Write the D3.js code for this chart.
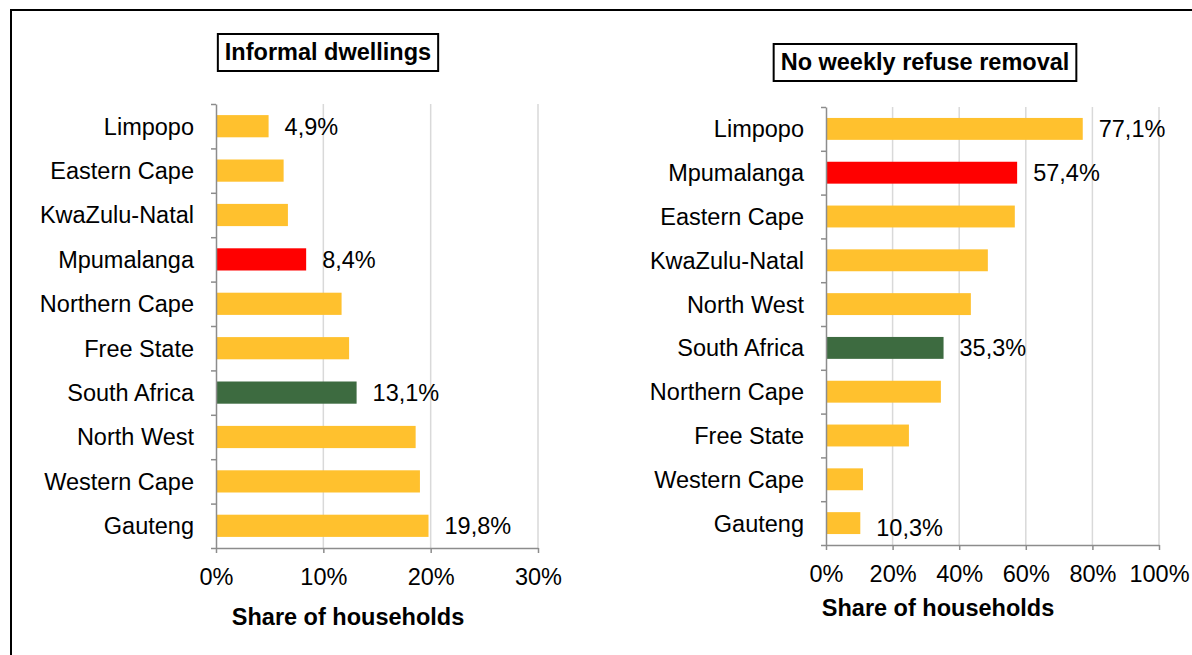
<!DOCTYPE html>
<html>
<head>
<meta charset="utf-8">
<script src="https://cdn.jsdelivr.net/npm/d3@7"></script>
<style>
  body { margin: 0; background: #fff; }
  text { font-family: "Liberation Sans", Arial, sans-serif; }
</style>
</head>
<body>
<div id="chart"></div>
<script>
// Informal dwellings
const dwellCategories = ["Limpopo", "Eastern Cape", "KwaZulu-Natal", "Mpumalanga", "Northern Cape",
  "Free State", "South Africa", "North West", "Western Cape", "Gauteng"];
const dwellValues = [4.9, 6.3, 6.7, 8.4, 11.7, 12.4, 13.1, 18.6, 19.0, 19.8];
const dwellLabels = ["4,9%", "", "", "8,4%", "", "", "13,1%", "", "", "19,8%"];
const dwellTicks = [0, 10, 20, 30];

// No weekly refuse removal
const refuseCategories = ["Limpopo", "Mpumalanga", "Eastern Cape", "KwaZulu-Natal", "North West",
  "South Africa", "Northern Cape", "Free State", "Western Cape", "Gauteng"];
const refuseValues = [77.1, 57.4, 56.7, 48.6, 43.5, 35.3, 34.5, 24.9, 11.1, 10.3];
const refuseLabels = ["77,1%", "57,4%", "", "", "", "35,3%", "", "", "", "10,3%"];
const refuseTicks = [0, 20, 40, 60, 80, 100];

const FS = 23.5;
const colorFor = name => name === "South Africa" ? "#3d6b40" : name === "Mpumalanga" ? "#ff0000" : "#ffc12e";

const svg = d3.select("#chart").append("svg")
  .attr("width", 1192)
  .attr("height", 655);

// outer frame
svg.append("path")
  .attr("d", "M11,700 L11,10 L1200,10")
  .attr("fill", "none")
  .attr("stroke", "#000")
  .attr("stroke-width", 2);

function panel(opts){
  const g = svg.append("g");
  const x = d3.scaleLinear().domain([0, opts.max]).range([opts.x0, opts.x1]);
  const y = d3.scaleBand().domain(opts.categories).range([opts.y0, opts.y1]).padding(0.5).paddingOuter(0.25);
  const idx = d3.scaleLinear().domain([0, opts.categories.length]).range([opts.y0, opts.y1]);

  // gridlines
  g.selectAll(".grid")
    .data(opts.ticks.slice(1))
    .join("line")
    .attr("x1", d => x(d)).attr("x2", d => x(d))
    .attr("y1", opts.y0).attr("y2", opts.y1)
    .attr("stroke", "#d9d9d9")
    .attr("stroke-width", 1.5);

  // bars
  g.selectAll(".bar")
    .data(opts.categories)
    .join("rect")
    .attr("x", x(0))
    .attr("y", d => y(d))
    .attr("width", (d, i) => x(opts.values[i]) - x(0))
    .attr("height", y.bandwidth())
    .attr("fill", colorFor);

  // value labels
  g.selectAll(".lbl")
    .data(opts.categories)
    .join("text")
    .attr("x", (d, i) => x(opts.values[i]) + 16)
    .attr("y", d => y(d) + y.bandwidth() / 2 + 8.4 + (opts.labelShift && d === "Gauteng" ? opts.labelShift : 0))
    .attr("font-size", FS)
    .attr("fill", "#000")
    .text((d, i) => opts.labels[i]);

  // x axis
  const xAxis = g.append("g")
    .attr("transform", `translate(0,${opts.y1})`)
    .call(d3.axisBottom(x).tickValues(opts.ticks).tickSize(5).tickSizeOuter(0).tickFormat(d => d + "%"));
  xAxis.select(".domain").attr("stroke", "#8c8c8c").attr("stroke-width", 1.5);
  xAxis.selectAll(".tick line").attr("stroke", "#8c8c8c").attr("stroke-width", 1.5);
  xAxis.selectAll(".tick text").attr("font-size", FS).attr("fill", "#000")
    .attr("font-family", "Liberation Sans, Arial, sans-serif")
    .attr("y", 0).attr("dy", 36.5);

  // y axis with ticks at band boundaries
  const yAxis = g.append("g")
    .attr("transform", `translate(${opts.x0},0)`)
    .call(d3.axisLeft(idx).ticks(opts.categories.length).tickSize(5).tickSizeOuter(0).tickFormat(""));
  yAxis.select(".domain").attr("stroke", "#8c8c8c").attr("stroke-width", 1.5);
  yAxis.selectAll(".tick line").attr("stroke", "#8c8c8c").attr("stroke-width", 1.5);

  // category labels
  g.selectAll(".cat")
    .data(opts.categories)
    .join("text")
    .attr("x", opts.x0 - 22)
    .attr("y", d => y(d) + y.bandwidth() / 2 + 8.4)
    .attr("text-anchor", "end")
    .attr("font-size", FS)
    .attr("fill", "#000")
    .text(d => d);

  // title box
  const t = g.append("text")
    .attr("x", opts.titleX)
    .attr("y", opts.titleY)
    .attr("text-anchor", "middle")
    .attr("font-size", FS)
    .attr("font-weight", "bold")
    .text(opts.title);
  const bb = t.node().getBBox();
  g.insert("rect", "text")
    .attr("x", bb.x - 7).attr("y", opts.titleY - 26)
    .attr("width", bb.width + 14).attr("height", 37)
    .attr("fill", "#fff").attr("stroke", "#000").attr("stroke-width", 2);

  // axis title
  g.append("text")
    .attr("x", opts.axisTitleX)
    .attr("y", opts.axisTitleY)
    .attr("text-anchor", "middle")
    .attr("font-size", FS)
    .attr("font-weight", "bold")
    .text("Share of households");
}

panel({
  categories: dwellCategories, values: dwellValues, labels: dwellLabels, ticks: dwellTicks, max: 30,
  x0: 216, x1: 538, y0: 104, y1: 548,
  title: "Informal dwellings", titleX: 328, titleY: 60,
  axisTitleX: 348, axisTitleY: 625
});

panel({
  categories: refuseCategories, values: refuseValues, labels: refuseLabels, ticks: refuseTicks, max: 100,
  x0: 826, x1: 1159, y0: 107, y1: 545,
  title: "No weekly refuse removal", titleX: 925, titleY: 70,
  axisTitleX: 938, axisTitleY: 616, labelShift: 4
});
</script>
</body>
</html>
